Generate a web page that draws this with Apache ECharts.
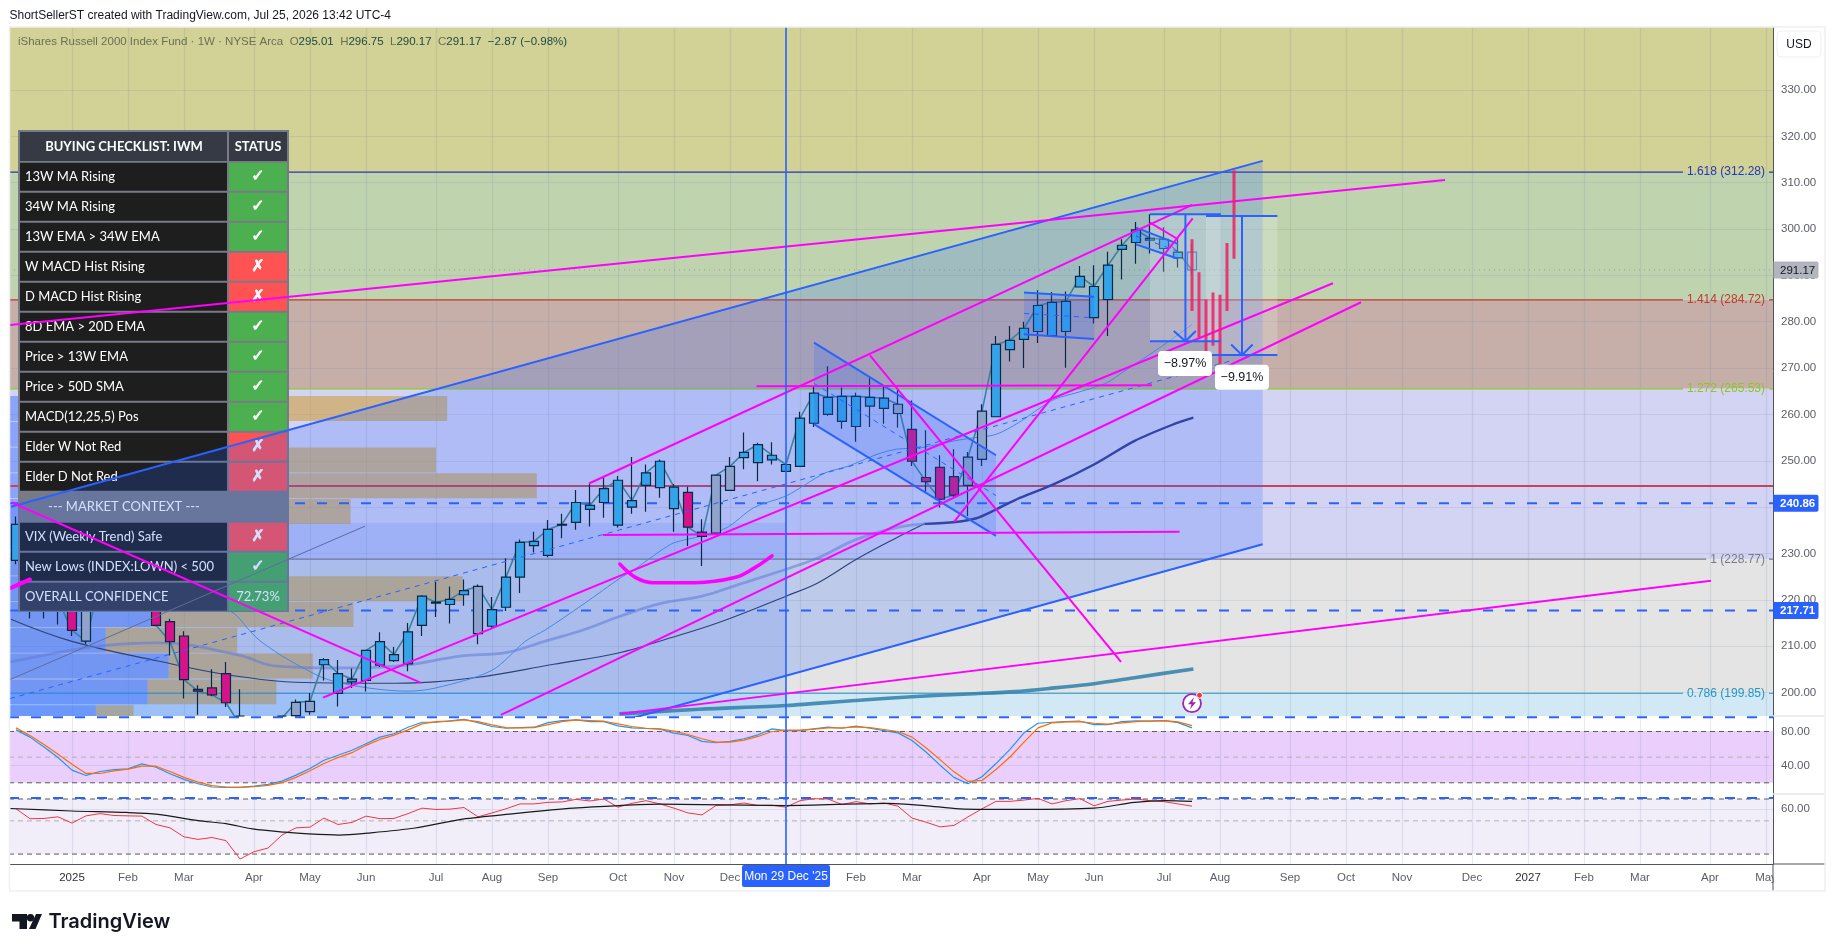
<!DOCTYPE html>
<html><head><meta charset="utf-8"><title>IWM weekly</title>
<style>html,body{margin:0;padding:0;background:#fff}#c{width:1835px;height:951px}</style>
<script src="https://cdn.jsdelivr.net/npm/echarts@6/dist/echarts.min.js"></script>
</head><body><div id="c"></div>
<script>
const FONT='Liberation Sans',TFONT='Lato';
const firstWeek=-4;
const openP=[228.5,225,222,226,220,220,219,224,226,231,223,215.3,212.2,200.7,201,204.1,194,188,190,192,195,195.9,206,199.8,202.3,202.6,205.9,206.9,206.2,214.5,219.3,219,221.1,212.7,214.3,218.4,224.9,231.7,229.6,236.1,236.7,239.5,241,236.1,240,244.7,244.2,239.7,243.2,234.6,234.4,243.6,250.7,249.6,250.2,247.7,248.8,258.1,260,258.5,257.4,261.8,261.3,260.2,256.8,246.4,248.6,246.6,244.7,250.3,259.5,274,276.2,277.9,277,277.9,287.5,280.9,284.8,295.6,297.1,297.6,295.8,293.8,295.01];
const closeP=[236.3,221,226,220,213.4,211.1,224,226,230,227,214.5,211,202.8,200.3,199.5,197.8,193,191,193,194.5,197.9,198.1,207.1,204.1,202.9,209.1,211,208.2,213.1,220.8,219.5,220.1,222,222.9,217.9,224.9,232.4,232.6,235.2,236.3,241,240.4,244,245.8,241.4,247.4,249.9,244.3,235.7,233.7,246.9,248.8,251.8,253.5,251.2,249.2,259.2,264.6,263.7,263.9,263.9,263.7,263.5,262.2,249.9,245.5,241.7,242.6,250.8,260.7,275.1,276,278.6,283.5,284.2,284.4,289.8,287.6,292.2,296.5,299.8,298,297.8,295,291.17];
const lowP=[227.7,216,216,214.7,212.2,210.5,218,220,224,225,214.3,208,198.7,195.2,199.2,196.9,190,183,188,190,194,195.2,202.6,197,201,200.2,205.5,206.6,204.6,212.2,216.3,214.9,218.7,210.4,214,217.6,221.5,230.2,229.2,233.3,235.1,235.8,237.7,235.6,238.6,239,242,234.7,231.6,227.3,234.1,243.5,248.2,245.6,249.2,247.7,248.7,257.3,259.7,256.9,254.1,257.3,258,257.2,248.9,243.3,239.9,242.1,238.1,248.9,259.5,271.4,270,275.4,276.9,270.1,287.5,279.6,276.9,289.1,292.5,294.7,290.8,291.7,290.17];
const highP=[238,228,230,229,221,222,227,229,232,233,224,215.9,213.2,201.6,205,206.6,200.7,193,194.5,195,198.5,199.9,207.4,207,205.2,209.2,213,209.8,215,221,223.9,222.9,224.4,223.3,220.6,229,233,234.7,237.2,238.6,243.7,245.1,246.4,246.7,250.8,249.2,250.3,245,244.4,237.4,246.9,250.8,256.1,253.9,254,249.3,260.6,266.1,270.4,265.8,264.7,267.8,265.9,265.4,263,256.6,251.2,252.5,251.9,262.2,276.9,279.1,280,286.8,286.4,286.5,292,292.2,295.1,297.8,301.5,303.2,300.4,297.8,296.75];
const toneSeq=['B','P','B','P','P','G','B','B','B','P','P','P','P','P','P','P','P','B','B','G','G','G','B','B','B','B','B','B','B','B','B','B','B','G','B','B','B','B','B','B','B','B','B','B','B','B','B','B','P','P','G','G','B','B','B','B','B','B','B','B','B','B','B','G','P','P','P','P','G','G','B','B','B','B','B','B','B','B','B','B','B','B','B','B','H'];
const toneStyle={B:['#39B3E2','#02191A'],P:['#FF006E','#02191A'],G:['#A9B3BF','#02191A'],H:['rgba(0,0,0,0)','#3d6a9e']};

const monthIdx=[0,4,8,13,17,21,26,30,34,39,43,47,52,56,60,65,69,73,78,82,87,91,95,100,104,108,112,117,121];
const monthLabels=['2025','Feb','Mar','Apr','May','Jun','Jul','Aug','Sep','Oct','Nov','Dec','2026','Feb','Mar','Apr','May','Jun','Jul','Aug','Sep','Oct','Nov','Dec','2027','Feb','Mar','Apr','May'];
const priceTicks=[200,210,220,230,240,250,260,270,280,290,300,310,320,330];

const fibLevels=[['1.618',312.28,'#2a36b1'],['1.414',284.72,'#c0392b'],['1.272',265.53,'#8bc71f'],['1',228.77,'#787b86'],['0.786',199.85,'#2196c9']];
const fibFills=['#D2D196','#BED3AE','#C5AFA8','#D3D3F3','#E4E4E4','#D2E9F5'];
const priceTags=[[291.17,'#B2B5BE','#131722'],[240.86,'#2962FF','#fff'],[217.71,'#2962FF','#fff']];
const rayLevels=[240.86,217.71];
const resistance=244.56;
const lastClose=291.17;

const ma13=[[6,222],[9,220],[11.5,217.2],[12.7,213.3],[13.5,211],[15.5,207],[18.6,202.5],[24,200.3],[26,201],[30,204.8],[32.4,211.1],[33.8,213.5],[36.5,219],[39.3,225],[40,226.2],[42,230.5],[43,232.3],[45,233.8],[46.8,235.6],[48.7,239.9],[51,242.4],[52.4,244.9],[53.8,247.4],[55.5,248.9],[57.5,251.4],[58.9,252.5],[60.6,252.8],[63,254.3],[64.5,255],[66,255.7],[67.6,258.2],[69,261.1],[70.2,263.3],[72,264.9],[73.9,266.8],[75,269],[77.7,274.4],[80,279.4]];
const ma34=[[-4.43,206.6],[-1.76,208.2],[1.9,210],[6.15,210.7],[11.8,208.2],[14.6,205.7],[19.1,205.3],[23.1,205.7],[27.9,207.9],[31,208.6],[33.8,211.1],[36.5,213.5],[39.1,216.4],[42,219.2],[45,220.8],[47.6,223.3],[51,226.6],[53.3,229.1],[56,233],[58.9,235.6],[60.9,236.4]];
const ma34Recent=[[60.9,236.4],[63.1,236.8],[64.6,237.6],[66,239.5],[67.7,242],[70.1,244.9],[73,249.2],[75.9,254.3],[78.7,257.9],[80.1,259.3]];
const ma50=[[-4.36,215.8],[-0.07,211.1],[6.15,206.8],[11.8,203.5],[17.4,202.1],[23.1,202],[28.7,203.2],[34.4,206.1],[39.1,208.6],[42.2,211.3],[46.2,215.1],[51,220.8],[53.3,223.7],[56,228.7],[58.9,233.4],[60.9,236.4]];
const ma200=[[39.1,195.4],[44.8,196.4],[51,197.2],[56,198.3],[60,199.1],[64,199.7],[67.4,200.2],[70.2,201],[73,201.9],[75.9,203.2],[80.1,205.1]];

const profileRows=[[264,7,26.8],[258.44,2,9.1],[252.88,6.3,26],[247.32,10.6,33.2],[241.76,5.6,19.9],[236.2,2,14.9],[230.64,2,14.9],[225.08,5.6,27.9],[219.52,5.6,20.1],[213.96,2.4,11.8],[208.4,6.9,17.2],[202.84,5.4,14.6],[197.28,1.7,4.4]];
const profileStart=-4.43, profileHeight=5.39;

const channelTop=[[-4.36,240.1],[85.05,314.7]];
const channelBottom=[[-4.36,157.5],[85.05,232]];
const channelMid=[[-4.43,198.7],[82.7,271.5]];
const flagA={top:[[53,275.5],[66,251.2]],bottom:[[53,257.9],[66,233.8]]};
const flagB={top:[[68,286.3],[73,285.4]],bottom:[[68,277.3],[73,276.3]]};
const flagC={top:[[76,300.3],[79,296.8]],bottom:[[76,296.7],[79,293.6]]};

const magentaLines=[
 [[-4.43,279.3],[98.07,310.6]],[[36.93,245.1],[80.02,305.2]],[[17.93,198.9],[90.07,288.3]],[[30.64,195.2],[92.07,284.2]],
 [[-4.29,241],[24.93,202.1]],[[48.89,266.1],[77.14,266.3]],[[37.93,234],[79.11,234.7]],[[57,272.75],[74.93,206.6]],
 [[63,236.8],[80.05,302.3]],[[77,301.4],[79,297.8]],[[39.14,195.4],[117.07,224.1]]];
const brushA=[[39.14,227.7],[40.27,224.8],[41.54,223.7],[44.5,223.7],[47.33,224.8],[48.74,226.9],[50,229.5]];
const brushB=[[-4.36,222.6],[-3,224.4]];
const thinTrend=[[-4.43,202.8],[20.93,235.9]];

const projBars=[[80,297.8,282.3],[80.5,290.7,276.6],[81,284.8,273.7],[81.5,286.3,274.8],[82,285.8,270.8],[82.5,297,282.3],[83,312.7,293.6]];
const ranges=[{x0:77,x1:82.07,mid:79.53,hi:303.17,lo:275.8,wing:[78.7,80.27],wingP:278,label:'−8.97%',at:[79.5,271]},
              {x0:81,x1:86.1,mid:83.57,hi:302.8,lo:272.8,wing:[82.8,84.33],wingP:275.1,label:'−9.91%',at:[83.57,268]}];
const eventMarks=[[80,197.7]];

const stochK=[81.9,73.4,61.8,49.5,34.8,28.6,33.2,35.5,36.3,42.1,38.2,30.5,24,18.9,15.1,14.7,14.7,16.2,18.1,22,29,36.7,46.4,52.2,58,65.7,73.4,77.3,85,90.8,90.8,92.4,94.3,90.4,85.8,83.8,84.6,85,90.4,92.7,93.5,91.6,91.6,86.6,84.2,83.5,82.7,78.1,75.3,68.4,66.8,68.4,71.5,76.1,83.1,81.1,81.1,83.1,85,83.8,86.2,83.8,81.1,78.4,69.5,56,40.6,26.3,18.9,27,42.5,59.1,78.4,89.6,90.8,91.6,92,88.1,88.1,91.6,92.4,92,92.7,90.4,84.2];
const stochD=[84.2,75.3,64.9,53.3,41.7,30.9,30.9,34,35.9,39.4,39.4,33.2,26.3,20.8,16.6,15.1,14.7,15.4,17,20.1,26.3,34,42.5,49.5,55.2,63.8,70.7,75.7,81.9,88.9,91.6,92,93.5,91.6,87.7,84.6,84.2,84.6,88.1,91.6,93.5,92.7,92,88.9,85.8,83.8,83.1,80.4,76.5,71.5,67.6,67.6,69.9,74.2,80,81.5,81.5,82.7,84.2,84.2,85.4,84.6,82.3,80,73.4,61,47.1,32.8,21.6,22.8,35.5,50.2,67.6,84.2,90,91.2,91.6,89.6,88.5,90,91.6,92,92.7,91.2,86.9];
const rsiLine=[60.2,51.7,51.9,53.2,48.3,54,55.9,54.3,54,53.8,47.3,44.9,39.1,37.6,38.7,36.9,27.8,31.1,32.9,40.2,44.9,45.4,52.2,47.3,48.8,53.8,51.7,51.9,55.9,60.8,59.6,59.9,61.4,53.2,56.5,60.2,64.9,64.9,66.5,66.9,69.6,67.9,70,61.7,65.5,68.2,64.9,60.8,56.5,54.8,63.3,64,65.8,63.3,63.6,61.7,68.2,70.4,70,64.3,67.2,64.9,65.8,62.7,52.2,49,45.6,46.6,53.2,60.2,67.5,67.5,68.9,70.7,64.9,68.2,70.4,63,67.5,68.9,70,68.2,67.2,64.9,62.7];
const rsiAvg=[[-4.4,60.5],[-0.05,58.2],[3.9,56.9],[6.15,55.3],[9,50.2],[11,47.9],[12.9,44.2],[15.2,42],[16.9,40.9],[19.1,40.2],[21.1,41.4],[24.5,44.8],[27.9,51.4],[31.6,55.9],[35.8,60.8],[39.1,63.3],[42,64.6],[51,63.3],[58.3,65.5],[60.9,63.3],[63.4,60.2],[67.7,59.6],[73,60.8],[75.9,66.5],[78.1,68.2],[80,67.5]];
const stochLevels=[[80,'#5a5a5a'],[50,'#b0b0b0'],[20,'#5a5a5a']];
const rsiLevels=[[70,'#5a5a5a'],[50,'#b0b0b0'],[30,'#5a5a5a']];
const stochRay=96.6, rsiRay=71.2;
const crossIdx=51, crossLabel="Mon 29 Dec '25";

const checklist=[['13W MA Rising','✓'],['34W MA Rising','✓'],['13W EMA > 34W EMA','✓'],['W MACD Hist Rising','✗'],['D MACD Hist Rising','✗'],['8D EMA > 20D EMA','✓'],['Price > 13W EMA','✓'],['Price > 50D SMA','✓'],['MACD(12,25,5) Pos','✓'],['Elder W Not Red','✗'],['Elder D Not Red','✗'],['--- MARKET CONTEXT ---',''],['VIX (Weekly Trend) Safe','✗'],['New Lows (INDEX:LOWN) < 500','✓'],['OVERALL CONFIDENCE','72.73%']];

// ---------- axes limits
const P_MIN=194.94,P_MAX=343.59,X_MIN=-4.5,X_MAX=121.5;
const S_MIN=6.9,S_MAX=98.1,R_MIN=25.75,R_MAX=75.6;
const zoneLeft=[[-4.43,236.6],[51,236.6],[51,P_MIN],[-4.43,P_MIN]];
const gridCol='rgba(110,130,165,.16)';
const weekCats=[];for(let i=-4;i<=121;i++)weekCats.push(String(i));
const series=[];
const BLUE='#2962FF',MAG='#FF00FF';
function line(name,pts,color,width,z,o){o=o||{};const p=o.pane||0;
  series.push({name,type:'line',xAxisIndex:p+1,yAxisIndex:p,data:pts,showSymbol:false,symbol:'none',silent:true,animation:false,z,connectNulls:false,smooth:o.smooth||false,
   lineStyle:{color,width,type:o.dash||'solid',opacity:o.op==null?1:o.op,cap:o.cap||'butt',join:'round'}});}
function polys(name,list,z,pane){pane=pane||0;
  series.push({name,type:'custom',coordinateSystem:'cartesian2d',xAxisIndex:pane+1,yAxisIndex:pane,clip:true,silent:true,animation:false,z,
   data:list.map(p=>p.pts[0]),
   renderItem:(params,api)=>{const it=list[params.dataIndex];return{type:'polygon',shape:{points:it.pts.map(q=>api.coord(q))},style:{fill:it.color}};}});}
function overlay(name,data,z,pane,render){pane=pane||0;
  series.push({name,type:'custom',coordinateSystem:'cartesian2d',xAxisIndex:pane+1,yAxisIndex:pane,clip:false,silent:true,animation:false,z,data,renderItem:render});}
const band=(lo,hi,color)=>({pts:[[X_MIN,hi],[X_MAX,hi],[X_MAX,lo],[X_MIN,lo]],color});
const between=(a,b,color)=>({pts:[a[0],a[1],b[1],b[0]],color});

// background zones
const edges=[P_MAX,...fibLevels.map(f=>f[1]),P_MIN];
polys('fibZones',fibFills.map((c,i)=>band(edges[i+1],edges[i],c)),0);
polys('stochBand',[band(20,80,'#EACFFD')],0,1);
polys('rsiBand',[band(30,70,'#F1EEFA')],0,2);

// fib levels with gaps for text
const mctx=document.createElement('canvas').getContext('2d');mctx.font='12px '+FONT;
const LBL_END=(1765-72)/14, LBL_RES=(1769-72)/14;
fibLevels.forEach(f=>{const w=mctx.measureText(f[0]+' ('+f[1].toFixed(2)+')').width;
  const stop=(1765-w-4-72)/14;
  line('fib'+f[0],[[X_MIN,f[1]],[stop,f[1]],[null,null],[LBL_RES,f[1]],[X_MAX,f[1]]],f[2],1.2,2);});
overlay('fibText',fibLevels.map(f=>[LBL_END,f[1]]),3,0,(p,api)=>{const f=fibLevels[p.dataIndex],c=api.coord([LBL_END,f[1]]);
  return{type:'text',style:{x:c[0],y:c[1],text:f[0]+' ('+f[1].toFixed(2)+')',fill:f[2],font:'12px '+FONT,textAlign:'right',textVerticalAlign:'middle'}};});

// volume profile & zones
polys('zoneLeft',[{pts:zoneLeft,color:'rgba(41,98,255,.13)'}],2);
polys('profileTan',profileRows.map(r=>({pts:[[r[1],r[0]],[r[2],r[0]],[r[2],r[0]-profileHeight],[r[1],r[0]-profileHeight]],color:'rgba(205,150,30,.5)'})),2);
polys('profileBlue',profileRows.map(r=>({pts:[[profileStart,r[0]],[r[1],r[0]],[r[1],r[0]-profileHeight],[profileStart,r[0]-profileHeight]],color:'rgba(41,98,255,.42)'})),2);

// rays
rayLevels.forEach(v=>line('ray'+v,[[X_MIN,v],[X_MAX,v]],BLUE,2,3,{dash:[10,12]}));
line('resistance',[[X_MIN,resistance],[X_MAX,resistance]],'#C8415F',2,3);
line('last',[[X_MIN,lastClose],[X_MAX,lastClose]],'rgba(110,120,130,.55)',1,3,{dash:[1,4]});

// MAs and close
line('ma50',ma50,'#2d3a5a',1.1,4,{smooth:.4});
line('ma34',ma34,'#6f80cf',2.8,4,{op:.55,smooth:.4});
line('ma34r',ma34Recent,'#3444a6',2.4,22,{smooth:.3});
line('ma13',ma13,'#4a92e8',1,4,{smooth:.3});
line('ma200',ma200,'#2f7fa8',3.6,4,{op:.85,smooth:.3});
line('closeLine',closeP.map((c,i)=>[i+firstWeek,c]),'#3E8A8A',1.6,4);

// candles (only the part inside the pane is drawn)
series.push({name:'IWM',type:'candlestick',xAxisIndex:0,yAxisIndex:0,barWidth:10,silent:true,animation:false,z:5,clip:true,
  data:openP.map((o,i)=>{const st=toneStyle[toneSeq[i]];
    if(highP[i]<=P_MIN)return{value:['-','-','-','-']};
    const v=[o,closeP[i],lowP[i],highP[i]].map(x=>Math.max(x,P_MIN));
    return{value:v,itemStyle:{color:st[0],color0:st[0],borderColor:st[1],borderColor0:st[1],borderWidth:1.2}};})});

// channels over the table
polys('channelFill',[between(channelTop,channelBottom,'rgba(41,98,255,.2)')],20);
[flagA,flagB,flagC].forEach((f,i)=>{polys('flag'+i,[between(f.top,f.bottom,'rgba(41,98,255,.2)')],20);
  line('flagT'+i,f.top,BLUE,2,23);line('flagB'+i,f.bottom,BLUE,2,23);
  line('flagM'+i,[[f.top[0][0],(f.top[0][1]+f.bottom[0][1])/2],[f.top[1][0],(f.top[1][1]+f.bottom[1][1])/2]],BLUE,1,23,{dash:[5,5]});});
line('chT',channelTop,BLUE,2,23);line('chB',channelBottom,BLUE,2,23);
line('chM',channelMid,BLUE,1,23,{dash:[5,5]});
line('thin',thinTrend,'#5d6c9f',1,21);
magentaLines.forEach((l,i)=>line('m'+i,l,MAG,2,24));
line('brushA',brushA,MAG,3.6,24,{cap:'round',smooth:.4});line('brushB',brushB,MAG,4,24,{cap:'round'});

// range tools
polys('rangeFill',ranges.map(r=>({pts:[[r.x0,r.hi],[r.x1,r.hi],[r.x1,r.lo],[r.x0,r.lo]],color:'rgba(255,255,255,.2)'})),21);
projBars.forEach((b,i)=>line('proj'+i,[[b[0],b[1]],[b[0],b[2]]],'rgba(238,30,100,.85)',3,25));
ranges.forEach((r,i)=>{
  line('rT'+i,[[r.x0,r.hi],[r.x1,r.hi]],BLUE,2,26);line('rB'+i,[[r.x0,r.lo],[r.x1,r.lo]],BLUE,2,26);
  line('rV'+i,[[r.mid,r.hi],[r.mid,r.lo]],BLUE,2,26);
  line('rA'+i,[[r.wing[0],r.wingP],[r.mid,r.lo],[r.wing[1],r.wingP]],BLUE,2,26);
});
overlay('rangeLabels',ranges.map(r=>r.at),30,0,(p,api)=>{const r=ranges[p.dataIndex],c=api.coord(r.at);
  return{type:'group',children:[{type:'rect',shape:{x:c[0]-27,y:c[1]-12.5,width:54,height:25,r:4},style:{fill:'#fff'}},
   {type:'text',style:{x:c[0],y:c[1],text:r.label,fill:'#131722',font:'12.5px '+FONT,textAlign:'center',textVerticalAlign:'middle'}}]};});

// event marker
overlay('event',eventMarks,30,0,(p,api)=>{const c=api.coord(eventMarks[p.dataIndex]),x=c[0],y=c[1];
  return{type:'group',children:[{type:'circle',shape:{cx:x,cy:y,r:9},style:{fill:'#fff',stroke:'#9C27B0',lineWidth:1.8}},
   {type:'polygon',shape:{points:[[x+2,y-6],[x-4,y+1],[x-.5,y+1],[x-2,y+6],[x+4,y-1],[x+.5,y-1]]},style:{fill:'#9C27B0'}},
   {type:'circle',shape:{cx:x+7.5,cy:y-8,r:3},style:{fill:'#F23645',stroke:'#fff',lineWidth:1}}]};});

// panes
line('stK',stochK.map((v,i)=>[i+firstWeek,v]),'#2196F3',1.2,5,{pane:1});
line('stD',stochD.map((v,i)=>[i+firstWeek,v]),'#FF6D00',1.2,6,{pane:1});
stochLevels.forEach(l=>line('stL'+l[0],[[X_MIN,l[0]],[X_MAX,l[0]]],l[1],1,3,{pane:1,dash:[5,4]}));
line('stRay',[[X_MIN,stochRay],[X_MAX,stochRay]],BLUE,2,4,{pane:1,dash:[10,12]});
line('rsi',rsiLine.map((v,i)=>[i+firstWeek,v]),'#F23645',1,5,{pane:2});
line('rsiAvg',rsiAvg,'#1a1a1a',1.2,6,{pane:2,smooth:.3});
rsiLevels.forEach(l=>line('rsL'+l[0],[[X_MIN,l[0]],[X_MAX,l[0]]],l[1],1,3,{pane:2,dash:[5,4]}));
line('rsRay',[[X_MIN,rsiRay],[X_MAX,rsiRay]],BLUE,2,4,{pane:2,dash:[10,12]});

// crosshair
line('cross0',[[crossIdx,P_MIN],[crossIdx,P_MAX]],BLUE,1.6,27);
line('cross1',[[crossIdx,S_MIN],[crossIdx,S_MAX]],BLUE,1.6,27,{pane:1});
line('cross2',[[crossIdx,R_MIN],[crossIdx,R_MAX]],BLUE,1.6,27,{pane:2});
overlay('crossTag',[[crossIdx,R_MIN]],40,2,(p,api)=>{const c=api.coord([crossIdx,R_MIN]);
  return{type:'group',children:[{type:'rect',shape:{x:c[0]-44,y:c[1]+1,width:88,height:22,r:2},style:{fill:BLUE}},
   {type:'text',style:{x:c[0],y:c[1]+12.5,text:crossLabel,fill:'#fff',font:'12px '+FONT,textAlign:'center',textVerticalAlign:'middle'}}]};});
overlay('priceTags',priceTags.map(t=>[X_MAX,t[0]]),40,0,(p,api)=>{const t=priceTags[p.dataIndex],c=api.coord([X_MAX,t[0]]);
  return{type:'group',children:[{type:'rect',shape:{x:c[0]+.5,y:c[1]-8.5,width:45,height:17,r:[0,2,2,0]},style:{fill:t[1]}},
   {type:'text',style:{x:c[0]+7,y:c[1]+.5,text:t[0].toFixed(2),fill:t[2],font:(t[2]=='#fff'?'bold ':'')+'11.5px '+FONT,textVerticalAlign:'middle'}}]};});

// ---------- graphics: table, header, logo
const g=[];
const txt=(x,y,text,fill,font,align,z,extra)=>({type:'text',z:z||11,silent:true,style:Object.assign({x,y,text,fill,font,textAlign:align||'left',textVerticalAlign:'middle'},extra||{})});
const rect=(x,y,w,h,fill,z)=>({type:'rect',z:z||10,silent:true,shape:{x,y,width:w,height:h},style:{fill}});
g.push(rect(18,130,271,482,'#787B86'));
g.push(rect(20,132,207,29,'#363A45'));g.push(rect(229,132,58,29,'#363A45'));
g.push(txt(124,146.5,'BUYING CHECKLIST: IWM','#fff','bold 13px '+TFONT,'center'));
g.push(txt(258,146.5,'STATUS','#fff','bold 13px '+TFONT,'center'));
checklist.forEach((r,i)=>{const y=161.7+30*i+1,h=28,mid=y+h/2;
  if(i==11){g.push(txt(124,mid,r[0],'#fff','13px '+TFONT,'center'));return;}
  g.push(rect(20,y,207,h,i==14?'#363A45':'#1E1E1E'));
  const ok=r[1]!='✗';g.push(rect(229,y,58,h,ok?'#4CAF50':'#FF5252'));
  g.push(txt(25,mid,r[0],'#fff','13px '+TFONT));
  g.push(i==14?txt(258,mid,r[1],'#fff','13px '+TFONT,'center'):txt(258,mid,r[1],'#fff','bold 16px "DejaVu Sans"','center',11,{stroke:'#fff',lineWidth:.7}));
});
g.push(txt(9.5,15.5,'ShortSellerST created with TradingView.com, Jul 25, 2026 13:42 UTC-4','#131722','12px '+FONT,'left',50));
g.push({type:'text',z:50,silent:true,style:{x:18,y:41.5,textVerticalAlign:'middle',font:'11.5px '+FONT,fill:'#7b7e63',
  text:'{a|iShares Russell 2000 Index Fund · 1W · NYSE Arca  O}{b|295.01}{a|  H}{b|296.75}{a|  L}{b|290.17}{a|  C}{b|291.17}{b|  −2.87 (−0.98%)}',
  rich:{a:{fill:'#6a6f58',font:'11.5px '+FONT},b:{fill:'#1c4a45',font:'11.5px '+FONT}}}});
g.push(rect(0,26,9.6,866,'#fff',45));
g.push({type:'rect',z:50,silent:true,shape:{x:9.5,y:27,width:1815.5,height:864},style:{fill:'none',stroke:'#EEF0F4',lineWidth:1.5}});
g.push({type:'rect',z:50,silent:true,shape:{x:1777,y:31,width:44,height:26,r:4},style:{fill:'#fff',stroke:'#EEF0F4',lineWidth:1}});
g.push(txt(1799,44.5,'USD','#131722','12px '+FONT,'center',51));
g.push(rect(1773.8,865,50,25,'#fff',45));
g.push({type:'line',z:46,silent:true,shape:{x1:1773,y1:864,x2:1773,y2:891},style:{stroke:'#50535e',lineWidth:1}});
g.push({type:'line',z:46,silent:true,shape:{x1:1773,y1:864,x2:1825,y2:864},style:{stroke:'#50535e',lineWidth:1}});
g.push({type:'line',z:46,silent:true,shape:{x1:1773,y1:716,x2:1825,y2:716},style:{stroke:'#E3E6EE',lineWidth:1.5}});
g.push({type:'line',z:46,silent:true,shape:{x1:1773,y1:794,x2:1825,y2:794},style:{stroke:'#E3E6EE',lineWidth:1.5}});
g.push({type:'polygon',z:50,silent:true,shape:{points:[[12,914],[27,914],[27,929],[19.5,929],[19.5,921.5],[12,921.5]]},style:{fill:'#131722'}});
g.push({type:'circle',z:50,silent:true,shape:{cx:30.5,cy:917.7,r:3.7},style:{fill:'#131722'}});
g.push({type:'polygon',z:50,silent:true,shape:{points:[[36,914],[42,914],[35.5,929],[29,929]]},style:{fill:'#131722'}});
g.push(txt(48.5,922,'TradingView','#131722','600 20px Inter','left',50));

const ax=(grid,ticks,fmt,min,max,extra)=>Object.assign({type:'value',gridIndex:grid,position:'right',min,max,z:1,
  axisLine:{show:true,onZero:false,lineStyle:{color:'#50535e'}},axisTick:{show:false,customValues:ticks},
  axisLabel:{show:true,customValues:ticks,formatter:fmt,color:'#5b5e68',fontFamily:FONT,fontSize:11.5,margin:8},
  splitLine:{show:true,lineStyle:{color:gridCol,width:1.2}}},extra||{});
const fmt2=v=>Number(v).toFixed(2);
const xVal=(grid,labels)=>({type:'value',gridIndex:grid,min:X_MIN,max:X_MAX,position:'bottom',z:1,
  axisLine:{show:labels,onZero:false,lineStyle:{color:'#50535e',width:1}},axisTick:{show:false,customValues:monthIdx},
  axisLabel:{show:labels,customValues:monthIdx,margin:8,color:'#5b5e68',fontFamily:FONT,fontSize:11.5,
    formatter:v=>{const s=monthLabels[monthIdx.indexOf(Number(v))]||'';return /^\d/.test(s)?'{y|'+s+'}':s;},
    rich:{y:{color:'#2f3138',fontFamily:FONT,fontSize:11.5}}},
  splitLine:{show:true,lineStyle:{color:gridCol,width:1.2}}});

const option={animation:false,backgroundColor:'#fff',
 grid:[{left:9,top:27,width:1764,height:689},{left:9,top:716,width:1764,height:78},{left:9,top:794,width:1764,height:70}],
 xAxis:[{type:'category',gridIndex:0,data:weekCats,show:false,boundaryGap:true},xVal(0,false),xVal(1,false),xVal(2,true)],
 yAxis:[ax(0,priceTicks,fmt2,P_MIN,P_MAX),ax(1,[40,80],fmt2,S_MIN,S_MAX),
  Object.assign(ax(2,[60],fmt2,R_MIN,R_MAX),{type:'log',logBase:10})],
 graphic:{elements:g},series};
const chart=echarts.init(document.getElementById('c'),null,{renderer:'canvas',width:1835,height:951});
chart.setOption(option);
</script></body></html>
